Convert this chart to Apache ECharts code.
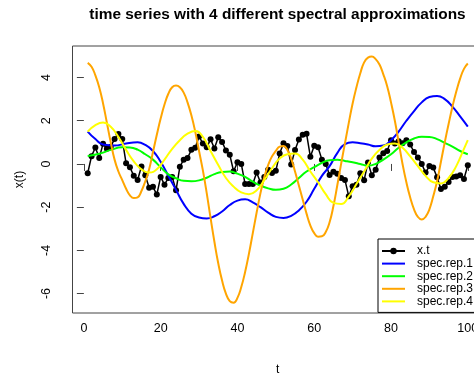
<!DOCTYPE html>
<html>
<head>
<meta charset="utf-8">
<script src="https://cdn.jsdelivr.net/npm/echarts@6/dist/echarts.min.js"></script>
<style>
  html, body { margin: 0; padding: 0; background: #fff; }
  #chart { width: 474px; height: 374px; }
</style>
</head>
<body>
<div id="chart"></div>
<script>
// observed series x.t, t = 1..100
var xt = [
  -0.43, 0.36, 0.76, 0.28, 0.93, 0.70, 0.80, 1.16, 1.39, 1.15,
   0.03, -0.15, -0.55, -0.74, -0.12, -0.52, -1.10, -1.06, -1.42, -0.60,
  -0.96, -0.65, -0.60, -1.22, -0.13, 0.20, 0.27, 0.66, 0.75, 1.27,
   0.95, 0.77, 1.14, 0.72, 1.24, 1.02, 0.62, 0.43, -0.34, 0.08,
   0.00, -0.93, -0.93, -0.93, -0.40, -0.86, -0.60, -0.27, -0.42, -0.32,
   0.48, 0.96, 0.83, -0.03, 0.65, 1.13, 1.35, 1.40, 0.33, 0.84,
   0.77, 0.20, 0.00, -0.51, -0.36, -0.45, -0.65, -0.74, -1.50, -1.03,
  -0.96, -0.43, -0.75, 0.07, -0.52, -0.27, 0.30, 0.50, 0.60, 1.10,
   0.95, 1.05, 0.96, 1.10, 0.90, 0.55, 0.30, 0.00, -0.40, -0.10,
  -0.17, -0.62, -1.16, -1.05, -0.83, -0.60, -0.58, -0.52, -0.70, -0.06
];

// spec.rep.1
var rep1T = [1,3,5,8,11,14,16,18,20,22,24,26,28,30,32,34,36,38,40,42,44,46,48,50,52,54,56,58,60,62,64,66,68,70,72,74,76,78,80,82,84,86,88,90,92,94,96,98,100];
var rep1V = [1.5,1.15,0.9,0.85,0.95,1.0,0.88,0.6,0.1,-0.55,-1.2,-1.85,-2.3,-2.48,-2.52,-2.42,-2.2,-1.9,-1.7,-1.64,-1.78,-2.0,-2.25,-2.45,-2.5,-2.4,-2.15,-1.75,-1.15,-0.55,-0.1,0.5,0.92,1.0,0.96,0.9,0.82,0.85,1.1,1.5,2.0,2.45,2.85,3.1,3.15,3.0,2.65,2.2,1.73];

// spec.rep.2
var rep2T = [1,4,7,10,12,14,16,18,20,22,24,26,28,30,32,34,36,38,40,42,44,46,48,50,52,54,56,58,60,62,64,66,68,70,72,74,76,78,80,82,84,86,88,90,92,94,96,98,100];
var rep2V = [0.37,0.47,0.65,0.77,0.76,0.66,0.45,0.2,-0.15,-0.48,-0.66,-0.78,-0.8,-0.76,-0.64,-0.47,-0.37,-0.35,-0.45,-0.6,-0.82,-1.0,-1.13,-1.2,-1.15,-0.95,-0.65,-0.35,-0.15,0.05,0.17,0.19,0.14,0.08,0.0,-0.08,0.0,0.2,0.45,0.75,1.0,1.18,1.26,1.25,1.15,0.98,0.8,0.6,0.45];

// spec.rep.3, t = 1..100
var rep3V = [
   4.68, 4.5, 4.1, 3.55, 2.8, 1.9, 1.0, 0.2, -0.35, -0.75,
  -1.15, -1.45, -1.58, -1.55, -1.25, -0.8, -0.25, 0.55, 1.35, 2.1,
   2.75, 3.25, 3.55, 3.63, 3.55, 3.3, 2.85, 2.25, 1.5, 0.6,
  -0.3, -1.35, -2.5, -3.6, -4.6, -5.4, -6.0, -6.35, -6.42, -6.2,
  -5.7, -5.0, -4.15, -3.2, -2.25, -1.35, -0.6, -0.05, 0.35, 0.6,
   0.8, 0.83, 0.65, 0.25, -0.35, -1.0, -1.65, -2.3, -2.85, -3.2,
  -3.37, -3.35, -3.15, -2.7, -1.95, -1.0, 0.0, 0.95, 1.9, 2.8,
   3.55, 4.2, 4.7, 4.92, 4.97, 4.85, 4.6, 4.15, 3.6, 2.85,
   2.0, 1.0, 0.0, -0.85, -1.55, -2.1, -2.45, -2.57, -2.45, -2.1,
  -1.5, -0.8, 0.1, 1.0, 1.85, 2.65, 3.35, 3.95, 4.4, 4.65
];

// spec.rep.4
var rep4T = [1,3,5,7,9,11,13,15,17,19,21,23,25,27,29,31,33,35,37,39,41,43,45,47,49,51,53,55,57,59,61,63,65,67,69,71,73,75,77,79,81,83,85,87,89,91,93,95,97,99,100];
var rep4V = [1.5,1.8,1.92,1.72,1.25,0.65,0.12,-0.25,-0.4,-0.25,0.2,0.7,1.1,1.4,1.53,1.25,0.6,-0.05,-0.65,-1.05,-1.32,-1.4,-1.22,-0.75,-0.2,0.25,0.45,0.48,0.2,-0.35,-0.85,-1.4,-1.8,-1.85,-1.5,-0.93,-0.35,0.25,0.65,0.9,0.95,0.75,0.35,-0.1,-0.55,-0.85,-0.9,-0.65,-0.1,0.7,1.1];

var xTicks = [0, 20, 40, 60, 80, 100];
var yTicks = [-6, -4, -2, 0, 2, 4];
var seriesNames = ['x.t', 'spec.rep.1', 'spec.rep.2', 'spec.rep.3', 'spec.rep.4'];
var seriesColors = ['#000000', '#0000FF', '#00FF00', '#FFA500', '#FFFF00'];

function pairs(ts, vs) {
  return vs.map(function (v, i) { return [ts ? ts[i] : i + 1, v]; });
}

var font = 'Liberation Sans, Arial, Helvetica, sans-serif';
var frame = '#444';

var chart = echarts.init(document.getElementById('chart'), null, { renderer: 'canvas' });

function curve(idx, data) {
  return {
    name: seriesNames[idx],
    type: 'line',
    data: data,
    smooth: true,
    symbol: 'none',
    showSymbol: false,
    lineStyle: { color: seriesColors[idx], width: 2 },
    itemStyle: { color: seriesColors[idx] },
    z: 3 + idx
  };
}

// legend entries: the curves show only their line, x.t shows line + point
var legendData = seriesNames.map(function (n, i) {
  return i === 0 ? { name: n } : { name: n, itemStyle: { opacity: 0 } };
});

chart.setOption({
  animation: false,
  backgroundColor: '#fff',
  title: {
    text: 'time series with 4 different spectral approximations',
    left: 277.5,
    top: 7,
    padding: 0,
    textAlign: 'center',
    textStyle: { fontFamily: font, fontSize: 15.4, fontWeight: 'bold', color: '#000' }
  },
  grid: {
    left: 72.5, top: 46, right: -9, bottom: 61,
    outerBoundsMode: 'none',
    containLabel: false,
    show: true, borderColor: frame, borderWidth: 1, backgroundColor: 'transparent'
  },
  legend: {
    orient: 'vertical',
    left: 378,
    top: 239,
    padding: [6, 40, 5, 3],
    itemWidth: 23,
    itemHeight: 8,
    itemGap: 0.6,
    borderColor: '#000',
    borderWidth: 1,
    borderRadius: 0,
    backgroundColor: '#fff',
    data: legendData,
    textStyle: { fontFamily: font, fontSize: 12, color: '#000', lineHeight: 12, padding: [0, 0, 0, 7] }
  },
  xAxis: {
    type: 'value',
    min: -2.96,
    max: 103.96,
    name: 't',
    nameLocation: 'middle',
    nameGap: 51,
    nameTextStyle: { fontFamily: font, fontSize: 12, color: '#000' },
    axisLine: { show: false },
    axisTick: { show: true, length: 7, customValues: xTicks, lineStyle: { color: frame } },
    axisLabel: { customValues: xTicks, margin: 9.5, fontFamily: font, fontSize: 12.5, color: '#000' },
    splitLine: { show: false }
  },
  yAxis: {
    type: 'value',
    min: -6.9,
    max: 5.46,
    name: 'x(t)',
    nameLocation: 'middle',
    nameGap: 47,
    nameRotate: 90,
    nameTextStyle: { fontFamily: font, fontSize: 12, color: '#000' },
    axisLine: { show: false },
    axisTick: { show: true, length: 7, customValues: yTicks, lineStyle: { color: frame } },
    axisLabel: { customValues: yTicks, rotate: 90, margin: 19, fontFamily: font, fontSize: 12.5, color: '#000' },
    splitLine: { show: false }
  },
  series: [
    {
      name: seriesNames[0],
      type: 'line',
      data: pairs(null, xt),
      symbol: 'circle',
      symbolSize: 6,
      lineStyle: { color: seriesColors[0], width: 1.5 },
      itemStyle: { color: seriesColors[0] },
      z: 2
    },
    curve(1, pairs(rep1T, rep1V)),
    curve(2, pairs(rep2T, rep2V)),
    curve(3, pairs(null, rep3V)),
    curve(4, pairs(rep4T, rep4V))
  ]
});
</script>
</body>
</html>
